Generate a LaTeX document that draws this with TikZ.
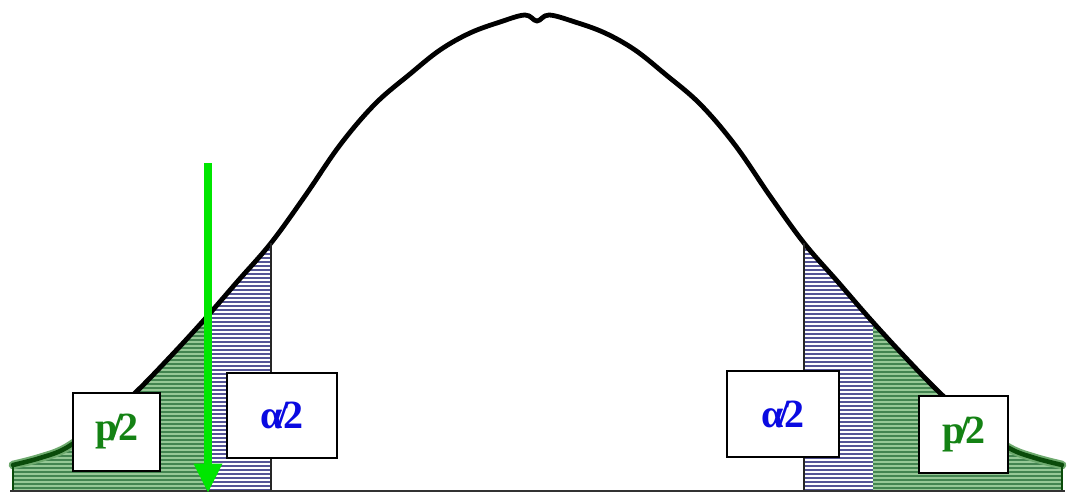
\documentclass[tikz,border=0pt]{standalone}
\usepackage{fontspec}
\setmainfont{Liberation Serif}
\usetikzlibrary{arrows.meta}
\definecolor{tailgreen}{RGB}{10,75,10}
\definecolor{halogreen}{RGB}{110,170,110}
\definecolor{fillgreen}{RGB}{66,132,80}
\definecolor{stripegreen}{RGB}{150,200,150}
\definecolor{hatchblue}{RGB}{85,85,150}
\definecolor{textgreen}{RGB}{20,130,20}
\definecolor{textblue}{RGB}{10,10,225}
\definecolor{arrowgreen}{RGB}{0,230,0}
\newcommand{\slashlbl}[1]{#1\kern-0.14em/\kern-0.12em 2}
\tikzset{
  curveline/.style={line width=3.6pt, black, line join=round, line cap=round},
  tailline/.style={line width=3.4pt, tailgreen, line cap=round},
  tailhalo/.style={line width=6.5pt, halogreen, line cap=round},
  cutline/.style={line width=1.2pt, black!85},
  baseline/.style={line width=1.4pt, black!80},
  lbox/.style={draw=black, line width=1.5pt, fill=white, inner sep=0pt,
    font=\fontsize{30}{34}\selectfont\bfseries},
  garrow/.style={line width=6pt, arrowgreen, -{Triangle[width=20pt,length=22pt]}}
}
\begin{document}
\begin{tikzpicture}[x=0.75pt,y=-0.75pt]
\useasboundingbox (0,0) rectangle (1067,493);
% shaded tails, clipped to the area under the curve
\begin{scope}
\clip plot[smooth, tension=0.6] coordinates {(13,465) (40,458) (66,448) (100,424) (135,393) (170,357) (204,320) (237,282) (271,243) (305,196) (340,145) (375,104) (410,74) (440,50) (470,33) (500,22) (525,15) (537,21) (549,15) (575,22) (605,33) (635,50) (665,74) (700,104) (735,145) (770,196) (804,243) (838,282) (871,320) (905,357) (940,393) (975,424) (1009,448) (1035,458) (1062,465)} -- (1062,491) -- (13,491) -- cycle;
\fill[fillgreen] (13,150) rectangle (206,491);
\fill[fillgreen] (873,150) rectangle (1062,491);
\foreach \yy in {242,246,...,490} {
  \draw[stripegreen, line width=0.8pt] (13,\yy) -- (206,\yy);
  \draw[stripegreen, line width=0.8pt] (873,\yy) -- (1062,\yy);
  \draw[hatchblue, line width=0.8pt] (206,\yy) -- (271,\yy);
  \draw[hatchblue, line width=0.8pt] (804,\yy) -- (873,\yy);
}
\end{scope}
% curve
\draw[curveline] plot[smooth, tension=0.6] coordinates {(13,465) (40,458) (66,448) (100,424) (135,393) (170,357) (204,320) (237,282) (271,243) (305,196) (340,145) (375,104) (410,74) (440,50) (470,33) (500,22) (525,15) (537,21) (549,15) (575,22) (605,33) (635,50) (665,74) (700,104) (735,145) (770,196) (804,243) (838,282) (871,320) (905,357) (940,393) (975,424) (1009,448) (1035,458) (1062,465)};
% green tails
\draw[tailhalo] plot[smooth, tension=0.6] coordinates {(13,465) (40,458) (66,448) (100,424)};
\draw[tailline] plot[smooth, tension=0.6] coordinates {(13,465) (40,458) (66,448) (100,424)};
\draw[tailhalo] plot[smooth, tension=0.6] coordinates {(975,424) (1009,448) (1035,458) (1062,465)};
\draw[tailline] plot[smooth, tension=0.6] coordinates {(975,424) (1009,448) (1035,458) (1062,465)};
\coordinate (lt) at (13,465);
\coordinate (lb) at (13,491);
\coordinate (rt) at (1062,465);
\coordinate (rb) at (1062,491);
\draw[tailgreen, line width=1.5pt] (lt) -- (lb);
\draw[tailgreen, line width=1.5pt] (rt) -- (rb);
% cut lines
\coordinate (c1t) at (271,243);
\coordinate (c1b) at (271,491);
\coordinate (c2t) at (804,243);
\coordinate (c2b) at (804,491);
\draw[cutline] (c1t) -- (c1b);
\draw[cutline] (c2t) -- (c2b);
% baseline
\coordinate (b1) at (10,491);
\coordinate (b2) at (1065,491);
\draw[baseline] (b1) -- (b2);
% labels
\node[lbox, minimum width=65.25pt, minimum height=58.5pt, text=textgreen] (pl) at (116.5,432) {\slashlbl{p}};
\node[lbox, minimum width=82.5pt, minimum height=63.75pt, text=textblue] (al) at (282,415.5) {\slashlbl{α}};
\node[lbox, minimum width=84pt, minimum height=64.5pt, text=textblue] (ar) at (783,414) {\slashlbl{α}};
\node[lbox, minimum width=66.75pt, minimum height=57.75pt, text=textgreen] (pr) at (963.5,434.5) {\slashlbl{p}};
% arrow
\coordinate (atop) at (208,163);
\coordinate (abot) at (208,493);
\draw[garrow] (atop) -- (abot);
\end{tikzpicture}
\end{document}
